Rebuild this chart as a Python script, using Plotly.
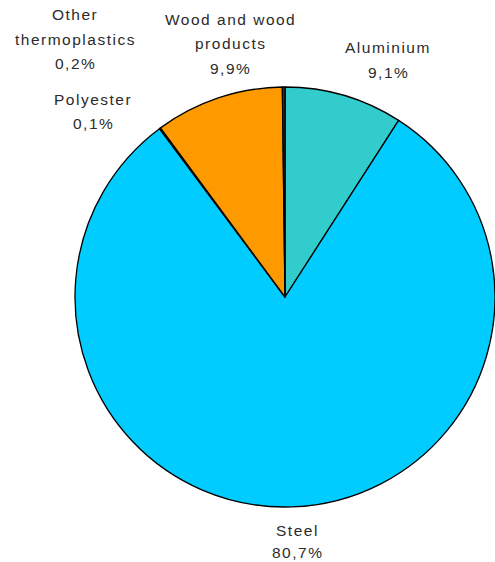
import plotly.graph_objects as go

# ---- data ----
materials = ["Aluminium", "Steel", "Polyester", "Wood and wood products", "Other thermoplastics"]
shares = [9.1, 80.7, 0.1, 9.9, 0.2]
label_lines = [
    ["Aluminium"],
    ["Steel"],
    ["Polyester"],
    ["Wood and wood", "products"],
    ["Other", "thermoplastics"],
]

# ---- styles ----
colors = ["#33CCCC", "#00CCFF", "#99CCFF", "#FF9900", "#333333"]
W, H = 495, 562
# label line centres in pixels (x, first-line y, line step)
label_pos = [
    (388, 48, 24),
    (297, 530, 22),
    (93, 100, 24),
    (230, 20, 24),
    (75, 15, 24.5),
]

fig = go.Figure(go.Pie(
    labels=materials,
    values=shares,
    sort=False,
    direction="clockwise",
    rotation=0,
    marker=dict(colors=colors, line=dict(color="#000000", width=1.3)),
    textinfo="none",
    hoverinfo="label+percent",
    showlegend=False,
    domain=dict(x=[75 / W, 1.0], y=[1 - 508 / H, 1 - 86 / H]),
))

annotations = []
for lines, val, (px, py, step) in zip(label_lines, shares, label_pos):
    pct = f"{val:.1f}".replace(".", ",") + "%"
    for i, t in enumerate(lines + [pct]):
        annotations.append(dict(
            text=f'<span style="letter-spacing:1.5px">{t}</span>',
            x=px / W, y=1 - (py + i * step) / H,
            xref="paper", yref="paper",
            xanchor="center", yanchor="middle",
            showarrow=False,
            font=dict(family="Liberation Sans, Arial, sans-serif", size=15.5, color="#2b2b2b"),
        ))

fig.update_layout(
    width=W, height=H,
    margin=dict(l=0, r=0, t=0, b=0),
    paper_bgcolor="white",
    plot_bgcolor="white",
    annotations=annotations,
)

fig.write_html(
    "out.html",
    config={"displayModeBar": False},
    post_script="document.body.style.margin='0';document.body.style.overflow='hidden';",
)
